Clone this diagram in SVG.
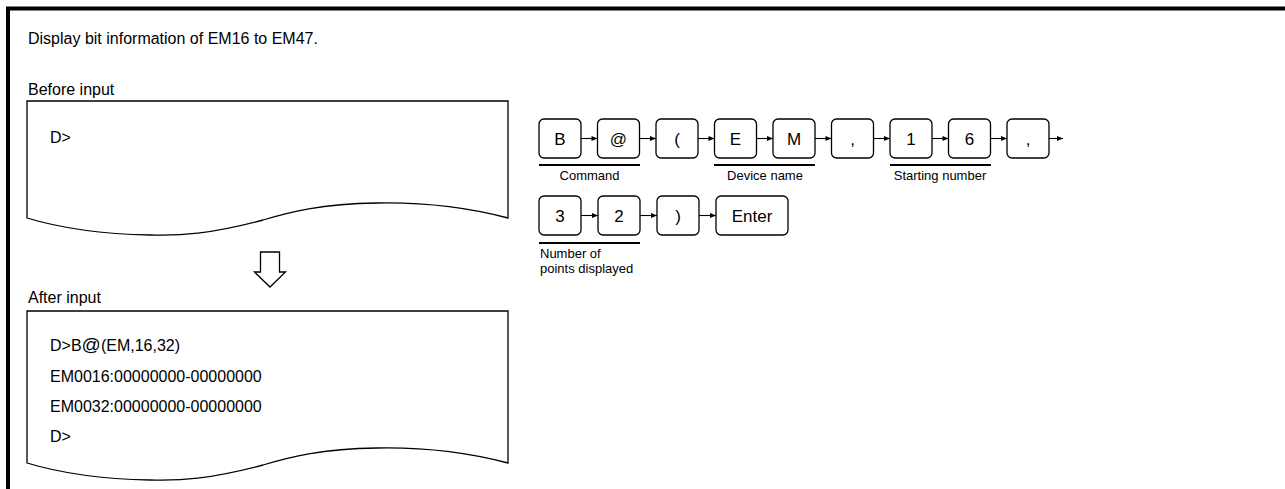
<svg xmlns="http://www.w3.org/2000/svg" width="1285" height="489" viewBox="0 0 1285 489">
<style>
.t{font-family:"Liberation Sans",Arial,sans-serif;font-size:16px;fill:#000}
.k{font-family:"Liberation Sans",Arial,sans-serif;font-size:17px;fill:#000;text-anchor:middle}
.l{font-family:"Liberation Sans",Arial,sans-serif;font-size:13px;fill:#000}
.at{font-size:19px}
.key{fill:#fff;stroke:#000;stroke-width:1.3}
.doc{fill:#fff;stroke:#000;stroke-width:1.3}
.c{fill:none;stroke:#000;stroke-width:1.1;marker-end:url(#ah)}
.u{stroke:#000;stroke-width:1.8}
</style>
<defs>
<marker id="ah" viewBox="0 0 10 10" refX="10" refY="5" markerWidth="7" markerHeight="6" markerUnits="userSpaceOnUse" orient="auto"><path d="M0,1 L10,5 L0,9 Z" fill="#000"/></marker>
</defs>
<rect width="1285" height="489" fill="#fff"/>
<path d="M8,489 V8.5 H1285" fill="none" stroke="#000" stroke-width="4"/>
<text class="t" x="28" y="44">Display bit information of EM16 to EM47.</text>
<text class="t" x="28" y="95">Before input</text>
<g id="before">
<path class="doc" d="M27,101 H508 V218 C470,208 430,202 377,203 C320,204 290,212 263,220 C210,234 180,236 150,235 C100,234 60,228 27,218 Z"/>
<text class="t" x="50" y="143">D&gt;</text>
</g>
<g id="down-arrow">
<path d="M260.5,252 H279.5 V272 H285.5 L270,287 L254.5,272 H260.5 Z" fill="#fff" stroke="#000" stroke-width="1.3"/>
</g>
<text class="t" x="28" y="303">After input</text>
<g id="after">
<path class="doc" d="M27,311 H508 V463 C470,453 430,447 377,448 C320,449 290,457 263,465 C210,479 180,481 150,480 C100,479 60,473 27,463 Z"/>
<text class="t" x="50" y="351">D&gt;B<tspan class="at">@</tspan>(EM,16,32)</text>
<text class="t" x="50" y="381.5">EM0016:00000000-00000000</text>
<text class="t" x="50" y="412">EM0032:00000000-00000000</text>
<text class="t" x="50" y="442">D&gt;</text>
</g>
<g id="k-B"><rect class="key" x="539" y="119" width="42" height="39" rx="5"/><text class="k" x="560" y="144.5">B</text></g>
<g id="k-at"><rect class="key" x="597.5" y="119" width="42" height="39" rx="5"/><text class="k" x="618.5" y="145">@</text></g>
<g id="k-lp"><rect class="key" x="656" y="119" width="42" height="39" rx="5"/><text class="k" x="677" y="144.5">(</text></g>
<g id="k-E"><rect class="key" x="714.5" y="119" width="42" height="39" rx="5"/><text class="k" x="735.5" y="144.5">E</text></g>
<g id="k-M"><rect class="key" x="773" y="119" width="42" height="39" rx="5"/><text class="k" x="794" y="144.5">M</text></g>
<g id="k-c1"><rect class="key" x="831.5" y="119" width="42" height="39" rx="5"/><text class="k" x="852.5" y="144.5">,</text></g>
<g id="k-1"><rect class="key" x="890" y="119" width="42" height="39" rx="5"/><text class="k" x="911" y="144.5">1</text></g>
<g id="k-6"><rect class="key" x="948.5" y="119" width="42" height="39" rx="5"/><text class="k" x="969.5" y="144.5">6</text></g>
<g id="k-c2"><rect class="key" x="1007" y="119" width="42" height="39" rx="5"/><text class="k" x="1028" y="144.5">,</text></g>
<g id="k-3"><rect class="key" x="539" y="196" width="42" height="39" rx="5"/><text class="k" x="560" y="221.5">3</text></g>
<g id="k-2"><rect class="key" x="598" y="196" width="42" height="39" rx="5"/><text class="k" x="619" y="221.5">2</text></g>
<g id="k-rp"><rect class="key" x="657" y="196" width="42" height="39" rx="5"/><text class="k" x="678" y="221.5">)</text></g>
<g id="k-enter"><rect class="key" x="716" y="196" width="72" height="39" rx="5"/><text class="k" x="752" y="221.5">Enter</text></g>
<g id="connectors">
<path class="c" d="M581,138.5 H597.5"/>
<path class="c" d="M639.5,138.5 H656"/>
<path class="c" d="M698,138.5 H714.5"/>
<path class="c" d="M756.5,138.5 H773"/>
<path class="c" d="M815,138.5 H831.5"/>
<path class="c" d="M873.5,138.5 H890"/>
<path class="c" d="M932,138.5 H948.5"/>
<path class="c" d="M990.5,138.5 H1007"/>
<path class="c" d="M1049,138.5 H1063"/>
<path class="c" d="M581,215.5 H598"/>
<path class="c" d="M640,215.5 H657"/>
<path class="c" d="M699,215.5 H716"/>
</g>
<g id="labels">
<line class="u" x1="539" y1="165" x2="640" y2="165"/>
<text class="l" x="589.5" y="180" text-anchor="middle">Command</text>
<line class="u" x1="714" y1="165" x2="815" y2="165"/>
<text class="l" x="765" y="180" text-anchor="middle">Device name</text>
<line class="u" x1="890" y1="165" x2="991" y2="165"/>
<text class="l" x="940" y="180" text-anchor="middle">Starting number</text>
<line class="u" x1="539" y1="243" x2="640" y2="243"/>
<text class="l" x="540" y="258">Number of</text>
<text class="l" x="540" y="273">points displayed</text>
</g>
</svg>
